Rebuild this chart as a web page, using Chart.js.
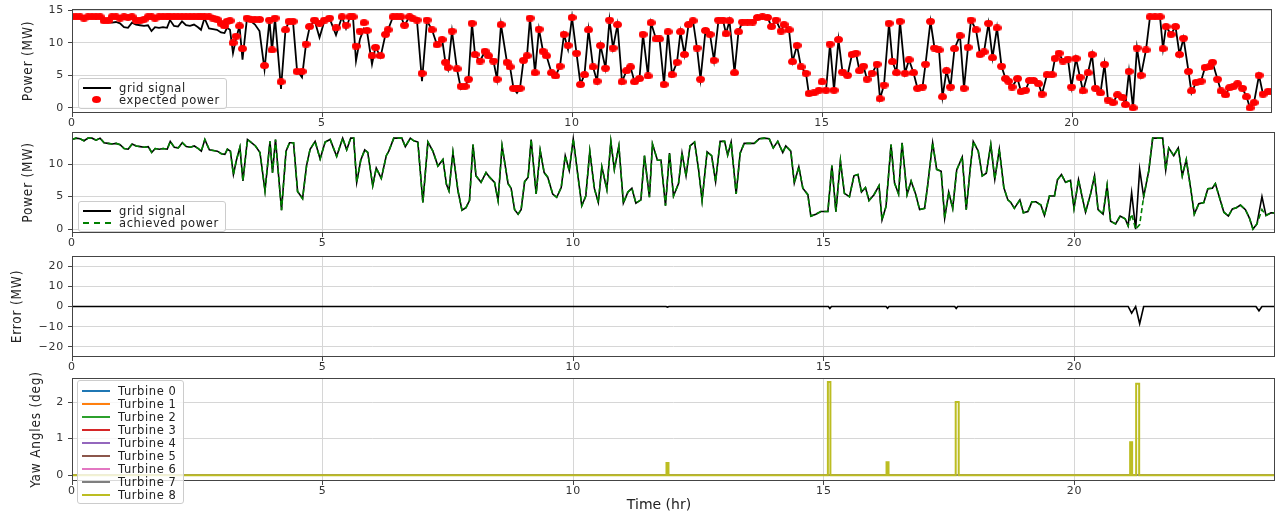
<!DOCTYPE html>
<html lang="en">
<head>
<meta charset="UTF-8">
<title>Grid signal tracking</title>
<script src="https://cdn.jsdelivr.net/npm/chart.js"></script>
<style>
  body{ margin:0; background:#fff; }
  .page{ position:relative; width:1277px; height:515px; overflow:hidden; }
  .panel{ position:absolute; left:0; width:1277px; }
  .legend{ position:absolute; z-index:2; background:rgba(255,255,255,0.8); border:1px solid #ccc; border-radius:3px;
           font:11.5px 'DejaVu Sans', sans-serif; letter-spacing:0.6px; color:#222; padding:3px 6px 2px 4px; }
  .legend .row{ display:flex; align-items:center; white-space:nowrap; }
  .legend .swatch{ position:relative; width:28px; height:10px; margin-right:8px; }
  .legend .ln{ position:absolute; left:0; right:0; top:4px; }
  .legend .dot{ position:absolute; left:9px; top:1px; width:9px; height:7px; border-radius:50%; background:#ff0000; }
  .xtitle{ position:absolute; z-index:1; top:496px; left:659px; transform:translateX(-50%);
           font:14px 'DejaVu Sans', sans-serif; color:#222; white-space:nowrap; }
</style>
</head>
<body>
<div class="page">
  <div class="panel" style="top:0;height:128px"><canvas id="c1"></canvas></div>
  <div class="panel" style="top:128px;height:120px"><canvas id="c2"></canvas></div>
  <div class="panel" style="top:248px;height:124px"><canvas id="c3"></canvas></div>
  <div class="panel" style="top:372px;height:143px"><canvas id="c4"></canvas></div>
  <div class="legend" id="leg1" style="left:78px;top:78px"></div>
  <div class="legend" id="leg2" style="left:78px;top:201px"></div>
  <div class="legend" id="leg4" style="left:77px;top:380px"></div>
  <div class="xtitle">Time (hr)</div>
</div>
<script>
// time axis (hr) for the power signals
const hours = [
  0.00,0.08,0.16,0.24,0.32,0.40,0.48,0.56,0.64,0.72, 0.80,0.88,0.96,1.04,1.12,1.20,1.28,1.36,1.44,1.52,
  1.59,1.66,1.74,1.82,1.90,1.96,2.04,2.12,2.20,2.28, 2.36,2.44,2.52,2.58,2.65,2.74,2.82,2.90,2.98,3.05,
  3.10,3.16,3.22,3.28,3.35,3.41,3.50,3.58,3.66,3.75,
  3.85,3.95,4.00,4.06,4.18,4.27,4.34,4.42,4.50,4.60, 4.68,4.75,4.85,4.95,5.05,5.15,5.28,5.40,5.48,5.56,
  5.62,5.68,5.76,5.84,5.90,6.00,6.07,6.17,6.27,6.32, 6.42,6.50,6.58,6.65,6.75,6.82,6.90,7.00,7.10,7.20,
  7.30,7.40,7.47,7.52,7.60,7.70,7.78,7.86,7.93,
  8.00,8.06,8.16,8.26,8.33,8.43,8.50,8.58,8.70,8.76, 8.83,8.90,8.96,9.03,9.10,9.16,9.26,9.34,9.42,9.49,
  9.59,9.67,9.76,9.84,9.92,10.00,10.09,10.17,10.25,10.33, 10.42,10.50,10.57,10.67,10.75,10.82,10.91,11.00,11.09,11.17,
  11.25,11.35,11.42,11.52,11.58,11.68,11.75,11.84,11.92,
  12.00,12.10,12.17,12.25,12.33,12.42,12.50,12.57,12.67,12.76, 12.84,12.93,13.02,13.08,13.15,13.25,13.33,13.41,13.51,13.61,
  13.71,13.81,13.91,13.99,14.08,14.18,14.24,14.34,14.41,14.50, 14.58,14.68,14.74,14.84,14.94,15.00,15.08,15.16,15.24,15.33,
  15.41,15.51,15.60,15.68,15.75,15.83,15.90,
  16.00,16.10,16.16,16.24,16.34,16.41,16.49,16.56,16.66,16.74, 16.83,16.91,17.01,17.07,17.17,17.25,17.34,17.41,17.49,17.57,
  17.65,17.76,17.84,17.92,17.98,18.08,18.16,18.24,18.33,18.41, 18.50,18.59,18.67,18.73,18.80,18.91,18.98,19.07,19.15,19.23,
  19.33,19.40,19.50,19.60,19.66,19.74,19.82,
  19.92,19.99,20.08,20.16,20.22,20.32,20.40,20.47,20.57,20.65, 20.72,20.82,20.91,21.01,21.07,21.14,21.22,21.30,21.38,21.48,
  21.56,21.66,21.76,21.82,21.88,21.98,22.07,22.15,22.23,22.33, 22.39,22.48,22.58,22.66,22.75,22.81,22.91,22.98,23.07,23.15,
  23.23,23.31,23.41,23.49,23.56,23.64,23.74,23.82,23.92,24.00
];

// grid signal (MW)
const gridSignal = [
  13.8,14.0,13.9,13.6,14.0,14.0,13.7,14.0,13.3,13.2, 13.1,13.2,13.0,12.4,12.3,13.1,12.8,12.7,12.6,12.7,
  11.8,12.4,12.3,12.4,12.3,13.5,12.6,12.5,13.3,12.7, 12.6,12.8,12.4,12.0,13.8,12.2,12.1,12.0,11.6,11.5,
  12.3,12.0,8.4,10.6,12.6,7.4,13.8,13.3,12.8,11.8,
  5.9,13.5,8.7,13.8,2.9,12.0,13.3,13.3,5.8,4.7, 9.8,12.3,13.5,10.8,13.4,13.8,11.2,14.0,12.2,14.0,
  14.0,7.2,10.6,12.2,11.8,6.7,9.4,7.8,11.3,12.0, 14.0,14.0,14.0,12.7,14.0,13.6,13.4,4.1,13.4,12.0,
  9.7,10.7,6.9,5.9,11.8,5.9,2.9,3.3,4.4,
  13.0,8.2,7.2,8.7,8.0,7.2,4.4,12.8,7.0,6.3, 3.0,2.3,3.0,7.3,8.0,13.8,5.4,12.1,8.7,8.0,
  5.4,4.9,6.4,11.3,9.0,13.9,8.4,3.6,5.1,12.0, 6.3,4.1,9.6,6.1,13.5,9.2,12.8,4.0,5.7,6.3,
  4.0,4.5,11.3,4.9,13.1,10.6,10.6,3.6,11.7,
  5.1,7.0,11.7,8.2,12.8,13.4,9.2,4.4,11.9,11.3, 7.3,13.5,13.5,11.4,13.4,5.4,11.7,13.2,13.2,13.2,
  13.9,14.0,13.9,12.5,13.5,11.8,12.8,12.0,7.1,9.6, 6.3,5.3,2.0,2.3,2.7,2.7,2.7,9.8,2.7,10.5,
  5.5,5.0,8.2,8.4,5.7,6.4,4.4,
  5.3,6.7,1.4,3.5,13.0,7.1,5.4,13.3,5.3,7.4, 5.4,3.0,3.2,6.7,13.3,9.2,8.9,1.7,5.7,3.2,
  9.1,11.1,3.0,9.3,13.5,12.0,8.2,8.6,13.0,7.7, 12.3,6.4,4.5,4.1,3.2,4.5,2.5,2.7,4.2,4.2,
  3.7,2.1,5.1,5.1,7.6,8.4,7.2,
  7.5,3.2,7.6,4.7,2.6,5.4,8.2,3.0,2.3,6.7, 1.2,0.8,2.0,1.6,0.5,5.6,0.0,9.2,5.0,8.9,
  14.0,14.0,14.0,9.1,12.5,11.3,12.5,8.2,10.7,5.6, 2.3,3.9,4.1,6.2,6.3,7.0,4.4,2.6,2.0,3.1,
  3.3,3.7,3.0,1.7,0.0,0.8,5.0,2.1,2.5,2.5
];

// expected power (MW), red dots
const expectedPower = [
  14.0,14.0,14.0,13.8,14.0,14.0,14.0,14.0,13.4,13.4, 14.0,14.0,13.8,14.0,13.9,14.0,13.5,13.4,13.6,14.0,
  14.0,13.8,14.0,14.0,14.0,14.0,14.0,14.0,14.0,14.0, 14.0,14.0,14.0,14.0,14.0,14.0,13.8,13.6,13.0,12.6,
  13.3,13.4,10.0,11.0,12.6,9.1,13.8,13.6,13.6,13.6,
  6.5,13.5,8.9,13.8,4.0,12.0,13.3,13.3,5.6,5.6, 9.8,12.5,13.5,13.0,13.5,13.8,12.3,14.0,12.7,14.0,
  14.0,9.5,11.8,13.1,11.9,8.0,9.3,8.0,11.3,12.0, 14.0,14.0,14.0,12.7,14.0,13.7,13.5,5.3,13.5,12.0,
  9.7,10.5,7.0,6.2,11.8,6.0,3.3,3.3,4.4,
  13.0,8.2,7.2,8.7,8.0,7.2,4.4,12.8,7.0,6.3, 3.0,3.0,3.0,7.3,8.0,13.8,5.4,12.1,8.7,8.0,
  5.4,4.9,6.4,11.3,9.6,13.9,8.4,3.6,5.1,12.0, 6.3,4.1,9.6,6.1,13.5,9.2,12.8,4.0,5.7,6.3,
  4.0,4.5,11.3,4.9,13.1,10.6,10.6,3.6,11.7,
  5.1,7.0,11.7,8.2,12.8,13.4,9.2,4.4,11.9,11.3, 7.3,13.5,13.5,11.4,13.4,5.4,11.7,13.2,13.2,13.2,
  13.9,14.0,13.9,12.5,13.5,11.8,12.8,12.0,7.1,9.6, 6.3,5.3,2.2,2.3,2.7,4.0,2.7,9.8,2.7,10.5,
  5.5,5.0,8.2,8.4,5.7,6.4,4.4,
  5.3,6.7,1.4,3.5,13.0,7.1,5.4,13.3,5.3,7.4, 5.4,3.0,3.2,6.7,13.3,9.2,8.9,1.7,5.7,3.2,
  9.1,11.1,3.0,9.3,13.5,12.0,8.2,8.6,13.0,7.7, 12.3,6.4,4.5,4.1,3.2,4.5,2.5,2.7,4.2,4.2,
  3.7,2.1,5.1,5.1,7.6,8.4,7.2,
  7.5,3.2,7.6,4.7,2.6,5.4,8.2,3.0,2.3,6.7, 1.2,0.8,2.0,1.6,0.5,5.6,0.0,9.2,5.0,8.9,
  14.0,14.0,14.0,9.1,12.5,11.3,12.5,8.2,10.7,5.6, 2.6,3.9,4.1,6.2,6.3,7.0,4.4,2.6,2.0,3.1,
  3.3,3.7,3.0,1.7,0.0,0.8,5.0,2.1,2.5,2.5
];

// achieved power (MW), green dashed
const achievedPower = [
  13.8,14.0,13.9,13.6,14.0,14.0,13.7,14.0,13.3,13.2, 13.1,13.2,13.0,12.4,12.3,13.1,12.8,12.7,12.6,12.7,
  11.8,12.4,12.3,12.4,12.3,13.5,12.6,12.5,13.3,12.7, 12.6,12.8,12.4,12.0,13.8,12.2,12.1,12.0,11.6,11.5,
  12.3,12.0,8.4,10.6,12.6,7.4,13.8,13.3,12.8,11.8,
  5.9,13.5,8.7,13.8,2.9,12.0,13.3,13.3,5.8,4.7, 9.8,12.3,13.5,10.8,13.4,13.8,11.2,14.0,12.2,14.0,
  14.0,7.2,10.6,12.2,11.8,6.7,9.4,7.8,11.3,12.0, 14.0,14.0,14.0,12.7,14.0,13.6,13.4,4.1,13.4,12.0,
  9.7,10.7,6.9,5.9,11.8,5.9,2.9,3.3,4.4,
  13.0,8.2,7.2,8.7,8.0,7.2,4.4,12.8,7.0,6.3, 3.0,2.3,3.0,7.3,8.0,13.8,5.4,12.1,8.7,8.0,
  5.4,4.9,6.4,11.3,9.0,13.9,8.4,3.6,5.1,12.0, 6.3,4.1,9.6,6.1,13.5,9.2,12.8,4.0,5.7,6.3,
  4.0,4.5,11.3,4.9,13.1,10.6,10.6,3.6,11.7,
  5.1,7.0,11.7,8.2,12.8,13.4,9.2,4.4,11.9,11.3, 7.3,13.5,13.5,11.4,13.4,5.4,11.7,13.2,13.2,13.2,
  13.9,14.0,13.9,12.5,13.5,11.8,12.8,12.0,7.1,9.6, 6.3,5.3,2.0,2.3,2.7,2.7,2.7,9.8,2.7,10.5,
  5.5,5.0,8.2,8.4,5.7,6.4,4.4,
  5.3,6.7,1.4,3.5,13.0,7.1,5.4,13.3,5.3,7.4, 5.4,3.0,3.2,6.7,13.3,9.2,8.9,1.7,5.7,3.2,
  9.1,11.1,3.0,9.3,13.5,12.0,8.2,8.6,13.0,7.7, 12.3,6.4,4.5,4.1,3.2,4.5,2.5,2.7,4.2,4.2,
  3.7,2.1,5.1,5.1,7.6,8.4,7.2,
  7.5,3.2,7.6,4.7,2.6,5.4,8.2,3.0,2.3,6.7, 1.2,0.8,2.0,1.6,0.5,2.3,0.0,0.7,5.0,8.9,
  14.0,14.0,14.0,9.1,12.5,11.3,12.5,8.2,10.7,5.6, 2.3,3.9,4.1,6.2,6.3,7.0,4.4,2.6,2.0,3.1,
  3.3,3.7,3.0,1.7,0.0,0.8,3.0,2.1,2.5,2.5
];

// tracking error (MW)
const errorHours  = [0, 11.85, 11.88, 11.91, 15.09, 15.12, 15.15, 16.24, 16.27, 16.30, 17.61, 17.64, 17.67,
                     21.07, 21.14, 21.22, 21.30, 21.38, 23.62, 23.68, 23.74, 24];
const errorValues = [0, 0, -0.3, 0, 0, -1.0, 0, 0, -0.9, 0, 0, -1.0, 0,
                     0, -3.3, 0, -8.5, 0, 0, -2.1, 0, 0];

// yaw angles (deg): turbines 0-7 stay at zero, turbine 8 has short steps
const yawFlatHours = [0, 24];
const yawFlat = [0, 0];
const yawHours = [0, 11.86, 11.86, 11.90, 11.90, 15.08, 15.08, 15.13, 15.13, 16.25, 16.25, 16.29, 16.29,
                  17.63, 17.63, 17.69, 17.69, 21.11, 21.11, 21.15, 21.15, 21.23, 21.23, 21.29, 21.29, 24];
const yawTurbine8 = [0, 0, 0.33, 0.33, 0, 0, 2.55, 2.55, 0, 0, 0.35, 0.35, 0,
                     0, 2.0, 2.0, 0, 0, 0.9, 0.9, 0, 0, 2.5, 2.5, 0, 0];
const turbineNames = ['Turbine 0','Turbine 1','Turbine 2','Turbine 3','Turbine 4','Turbine 5','Turbine 6','Turbine 7','Turbine 8'];
const turbineColors = ['#1f77b4','#ff7f0e','#2ca02c','#d62728','#9467bd','#8c564b','#e377c2','#7f7f7f','#bcbd22'];

const xTicks = [0, 5, 10, 15, 20];
const power1Ticks = [0, 5, 10, 15];
const power2Ticks = [0, 5, 10];
const errorTicks = [-20, -10, 0, 10, 20];
const yawTicks = [0, 1, 2];

const tickFont = { family: "'DejaVu Sans', sans-serif", size: 11 };
const titleFont = { family: "'DejaVu Sans Condensed', 'Liberation Sans Narrow', 'DejaVu Sans', sans-serif", size: 13.5 };
const gridOpts = { color: '#d6d6d6', lineWidth: 1, tickColor: '#444', tickLength: 4 };

function pts(xs, ys){
  return xs.map(function(x, i){ return { x: x, y: ys[i] }; });
}

// black frame round each plot, and a little letter spacing for the texts
const frame = {
  id: 'frame',
  beforeDraw: function(chart){ chart.ctx.letterSpacing = '0.8px'; },
  afterDatasetsDraw: function(chart){
    const a = chart.chartArea, ctx = chart.ctx;
    ctx.save();
    ctx.strokeStyle = '#444';
    ctx.lineWidth = 1;
    ctx.strokeRect(Math.round(a.left) + 0.5, Math.round(a.top) + 0.5,
                   Math.round(a.right - a.left) - 1, Math.round(a.bottom - a.top) - 1);
    ctx.restore();
  }
};

function xScale(axisHeight){
  return {
    type: 'linear', min: 0, max: 24,
    afterBuildTicks: function(s){ s.ticks = xTicks.map(function(v){ return { value: v }; }); },
    afterFit: function(s){ s.height = axisHeight; s.paddingLeft = 0; s.paddingRight = 0; },
    grid: gridOpts,
    border: { display: false },
    ticks: { color: '#333', font: tickFont, padding: 0, maxRotation: 0 }
  };
}

function yScale(min, max, ticks, text, pad){
  return {
    min: min, max: max,
    afterBuildTicks: function(s){ s.ticks = ticks.map(function(v){ return { value: v }; }); },
    afterFit: function(s){ s.width = 72; s.paddingTop = 0; s.paddingBottom = 0; },
    grid: gridOpts,
    border: { display: false },
    ticks: { color: '#333', font: tickFont, padding: 4,
             callback: function(v){ return String(v).replace('-', '\u2212'); } },
    title: { display: true, text: text, color: '#222', font: titleFont, padding: { top: pad, bottom: 0 } }
  };
}

function makeChart(id, datasets, y, axisHeight, padTop){
  return new Chart(document.getElementById(id), {
    type: 'line',
    data: { datasets: datasets },
    options: {
      animation: false,
      responsive: true,
      maintainAspectRatio: false,
      layout: { padding: { top: padTop, left: 0, right: 2, bottom: 0 } },
      elements: { point: { radius: 0 }, line: { tension: 0 } },
      plugins: { legend: { display: false }, tooltip: { enabled: false } },
      scales: { x: xScale(axisHeight), y: y }
    },
    plugins: [frame]
  });
}

// red ellipse used as marker for expected power
const dot = document.createElement('canvas');
dot.width = 9; dot.height = 7;
const dctx = dot.getContext('2d');
dctx.fillStyle = '#ff0000';
dctx.beginPath();
dctx.ellipse(4.5, 3.5, 4.5, 3.5, 0, 0, Math.PI * 2);
dctx.fill();

makeChart('c1', [
  { label: 'expected power', data: pts(hours, expectedPower), showLine: false,
    pointStyle: dot, pointRadius: 4, borderColor: '#ff0000', backgroundColor: '#ff0000', order: 0 },
  { label: 'grid signal', data: pts(hours, gridSignal), borderColor: '#000', borderWidth: 1.8, order: 1 }
], yScale(-0.8, 15.2, power1Ticks, 'Power (MW)', 20), 15, 9);

makeChart('c2', [
  { label: 'achieved power', data: pts(hours, achievedPower), borderColor: '#008000', borderWidth: 1.6,
    borderDash: [5, 3], order: 0 },
  { label: 'grid signal', data: pts(hours, gridSignal), borderColor: '#000', borderWidth: 1.6, order: 1 }
], yScale(-0.6, 14.95, power2Ticks, 'Power (MW)', 20), 15, 4);

makeChart('c3', [
  { label: 'error', data: pts(errorHours, errorValues), borderColor: '#000', borderWidth: 1.6 }
], yScale(-25, 25, errorTicks, 'Error (MW)', 9), 15, 8);

let yawSets = [];
for (let i = 0; i < 8; i++) {
  yawSets.push({ label: turbineNames[i], data: pts(yawFlatHours, yawFlat),
                 borderColor: turbineColors[i], borderWidth: 1.8, order: 9 - i });
}
yawSets.push({ label: turbineNames[8], data: pts(yawHours, yawTurbine8),
               borderColor: turbineColors[8], borderWidth: 2, order: 0 });
makeChart('c4', yawSets, yScale(-0.16, 2.66, yawTicks, 'Yaw Angles (deg)', 28), 34, 6);

// legends (matplotlib style boxes)
function addLegend(id, rows, rowHeight){
  const box = document.getElementById(id);
  rows.forEach(function(r){
    const row = document.createElement('div');
    row.className = 'row';
    row.style.height = rowHeight + 'px';
    const sw = document.createElement('span');
    sw.className = 'swatch';
    const mark = document.createElement('span');
    if (r.dot) {
      mark.className = 'dot';
    } else {
      mark.className = 'ln';
      mark.style.borderTop = r.width + 'px ' + (r.dash ? 'dashed' : 'solid') + ' ' + r.color;
    }
    sw.appendChild(mark);
    row.appendChild(sw);
    const t = document.createElement('span');
    t.textContent = r.label;
    row.appendChild(t);
    box.appendChild(row);
  });
}

addLegend('leg1', [
  { label: 'grid signal', color: '#000', width: 2 },
  { label: 'expected power', dot: true }
], 12);
addLegend('leg2', [
  { label: 'grid signal', color: '#000', width: 2 },
  { label: 'achieved power', color: '#008000', width: 2, dash: true }
], 12);
addLegend('leg4', turbineNames.map(function(n, i){
  return { label: n, color: turbineColors[i], width: 2 };
}), 13);
</script>
</body>
</html>
